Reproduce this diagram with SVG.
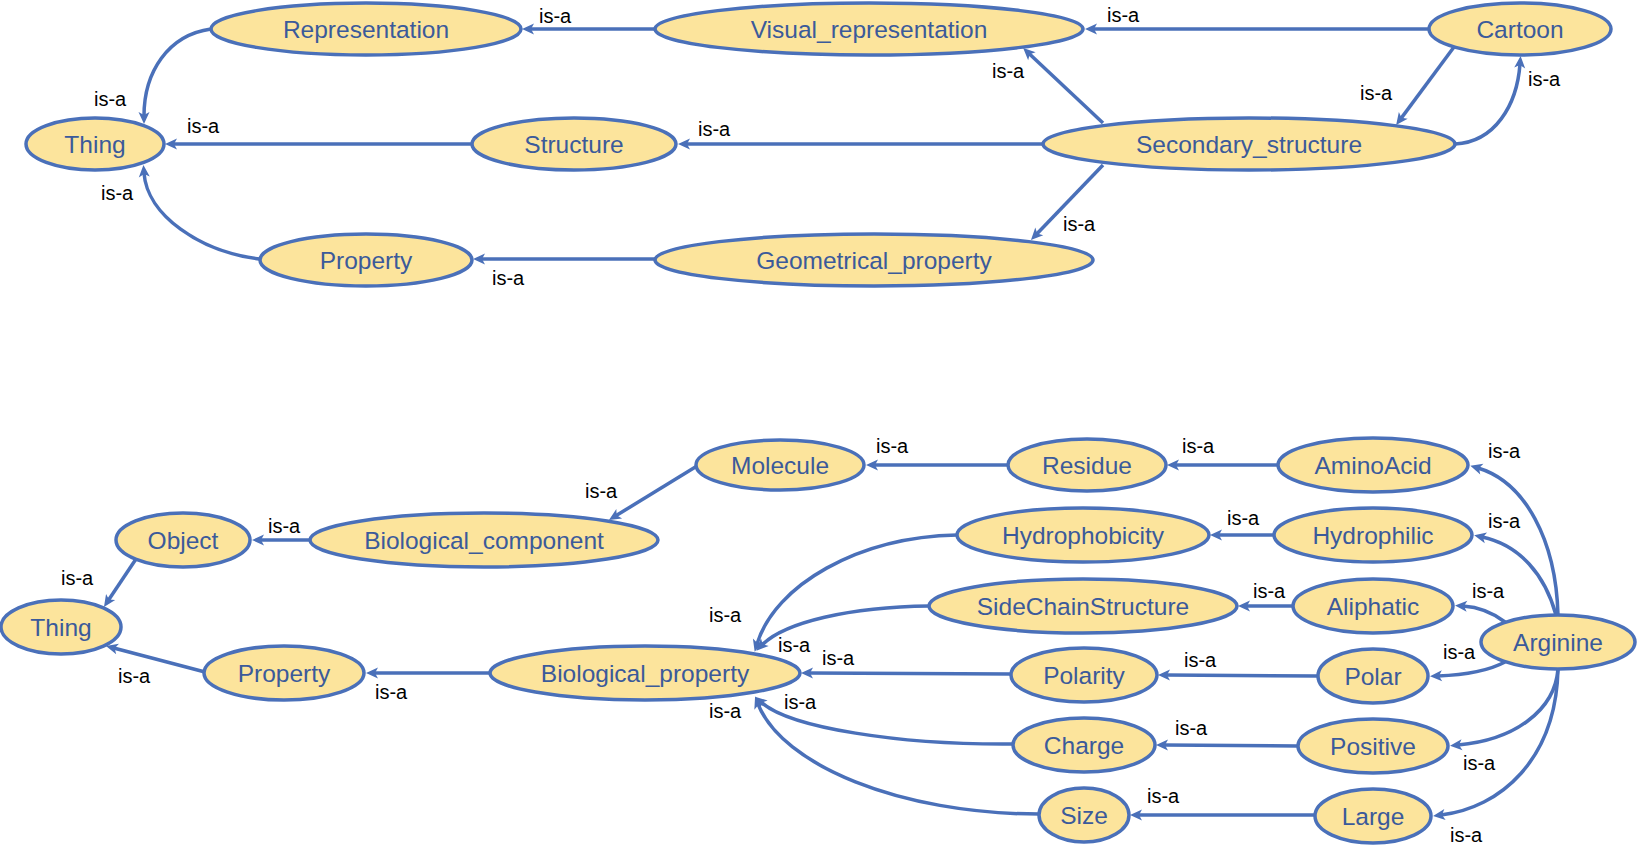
<svg xmlns="http://www.w3.org/2000/svg" width="1637" height="848" viewBox="0 0 1637 848">
<defs>
<style>
.n ellipse{fill:#FCE49C;stroke:#4A70B9;stroke-width:3.5}
.n text{font-family:"Liberation Sans",Arial,sans-serif;font-size:24.5px;fill:#3B5A9A;text-anchor:middle}
.e path{fill:none;stroke:#4A70B9;stroke-width:3.5;marker-end:url(#arr)}
.e text{font-family:"Liberation Sans",Arial,sans-serif;font-size:20px;fill:#000}
</style>
<marker id="arr" viewBox="-13 -7 14 14" refX="-8" refY="0" markerWidth="14" markerHeight="14" markerUnits="userSpaceOnUse" orient="auto">
<path d="M0,0 L-12,-5.5 L-9,0 L-12,5.5 Z" fill="#4A70B9"/>
</marker>
</defs>
<rect width="1637" height="848" fill="#fff"/>

<g id="connectors" class="e">
<!-- top -->
<path d="M655 29 L530 29"/><text x="539" y="23">is-a</text>
<path d="M1429 29 L1093 29"/><text x="1107" y="22">is-a</text>
<path d="M211 29 C168 35 144 72 144 116"/><text x="94" y="106">is-a</text>
<path d="M472 144 L173 144"/><text x="187" y="133">is-a</text>
<path d="M260 259 C200 252 147 215 144 173"/><text x="101" y="200">is-a</text>
<path d="M655 259 L481 259"/><text x="492" y="285">is-a</text>
<path d="M1103 123 L1029 53.5"/><text x="992" y="78">is-a</text>
<path d="M1043 144 L686 144"/><text x="698" y="136">is-a</text>
<path d="M1103 165 L1036.5 234.3"/><text x="1063" y="231">is-a</text>
<path d="M1454 47 L1400.9 118.6"/><text x="1360" y="100">is-a</text>
<path d="M1455 144 C1495 142 1517 105 1520 64"/><text x="1528" y="86">is-a</text>
<!-- bottom -->
<path d="M1008 465 L874 465"/><text x="876" y="453">is-a</text>
<path d="M1278 465 L1175 465"/><text x="1182" y="453">is-a</text>
<path d="M697 466 L615.8 515.8"/><text x="585" y="498">is-a</text>
<path d="M311 540 L260 540"/><text x="268" y="533">is-a</text>
<path d="M136 559 L108.4 600.3"/><text x="61" y="585">is-a</text>
<path d="M205 672 L113.7 648"/><text x="118" y="683">is-a</text>
<path d="M490 673 L374 673"/><text x="375" y="699">is-a</text>
<path d="M957 535 C858 537 775 585 757 644"/><text x="709" y="622">is-a</text>
<path d="M929 606 C850 607 785 622 762 645"/><text x="778" y="652">is-a</text>
<path d="M1011 674 L809 673"/><text x="822" y="665">is-a</text>
<path d="M1013 744 C900 745 790 728 761 702"/><text x="784" y="709">is-a</text>
<path d="M1039 814 C900 814 782 765 758 704"/><text x="709" y="718">is-a</text>
<path d="M1274 535 L1218 535"/><text x="1227" y="525">is-a</text>
<path d="M1293 606 L1246 606"/><text x="1253" y="598">is-a</text>
<path d="M1318 676 L1166 675"/><text x="1184" y="667">is-a</text>
<path d="M1298 746 L1164 745"/><text x="1175" y="735">is-a</text>
<path d="M1315 815 L1138 815"/><text x="1147" y="803">is-a</text>
<path d="M1558 615 C1556 540 1525 482 1478 468"/><text x="1488" y="458">is-a</text>
<path d="M1556 615 C1545 575 1520 545 1482 537"/><text x="1488" y="528">is-a</text>
<path d="M1505 622 C1492 612 1478 607 1463 606"/><text x="1472" y="598">is-a</text>
<path d="M1505 662 C1490 670 1465 675 1438 676"/><text x="1443" y="659">is-a</text>
<path d="M1558 669 C1555 710 1515 740 1458 745"/><text x="1463" y="770">is-a</text>
<path d="M1558 669 C1556 760 1500 808 1441 815"/><text x="1450" y="842">is-a</text>
</g>

<g id="representation" class="n"><ellipse cx="366" cy="29" rx="155" ry="26"/><text x="366" y="38">Representation</text></g>
<g id="visual_representation" class="n"><ellipse cx="869" cy="29" rx="214" ry="26"/><text x="869" y="38">Visual_representation</text></g>
<g id="cartoon" class="n"><ellipse cx="1520" cy="29" rx="91" ry="26"/><text x="1520" y="38">Cartoon</text></g>
<g id="thing_top" class="n"><ellipse cx="95" cy="144" rx="69" ry="26"/><text x="95" y="153">Thing</text></g>
<g id="structure" class="n"><ellipse cx="574" cy="144" rx="102" ry="26"/><text x="574" y="153">Structure</text></g>
<g id="secondary_structure" class="n"><ellipse cx="1249" cy="144" rx="206" ry="26"/><text x="1249" y="153">Secondary_structure</text></g>
<g id="property_top" class="n"><ellipse cx="366" cy="260" rx="106" ry="26"/><text x="366" y="269">Property</text></g>
<g id="geometrical_property" class="n"><ellipse cx="874" cy="260" rx="219" ry="26"/><text x="874" y="269">Geometrical_property</text></g>

<g id="molecule" class="n"><ellipse cx="780" cy="465" rx="84" ry="25"/><text x="780" y="474">Molecule</text></g>
<g id="residue" class="n"><ellipse cx="1087" cy="465" rx="79" ry="26"/><text x="1087" y="474">Residue</text></g>
<g id="aminoacid" class="n"><ellipse cx="1373" cy="465" rx="95" ry="27"/><text x="1373" y="474">AminoAcid</text></g>
<g id="object" class="n"><ellipse cx="183" cy="540" rx="67" ry="27"/><text x="183" y="549">Object</text></g>
<g id="biological_component" class="n"><ellipse cx="484" cy="540" rx="174" ry="27"/><text x="484" y="549">Biological_component</text></g>
<g id="hydrophobicity" class="n"><ellipse cx="1083" cy="535" rx="126" ry="27"/><text x="1083" y="544">Hydrophobicity</text></g>
<g id="hydrophilic" class="n"><ellipse cx="1373" cy="535" rx="99" ry="27"/><text x="1373" y="544">Hydrophilic</text></g>
<g id="thing_bottom" class="n"><ellipse cx="61" cy="627" rx="60" ry="27"/><text x="61" y="636">Thing</text></g>
<g id="sidechainstructure" class="n"><ellipse cx="1083" cy="606" rx="154" ry="27"/><text x="1083" y="615">SideChainStructure</text></g>
<g id="aliphatic" class="n"><ellipse cx="1373" cy="606" rx="80" ry="27"/><text x="1373" y="615">Aliphatic</text></g>
<g id="arginine" class="n"><ellipse cx="1558" cy="642" rx="77" ry="27"/><text x="1558" y="651">Arginine</text></g>
<g id="property_bottom" class="n"><ellipse cx="284" cy="673" rx="80" ry="27"/><text x="284" y="682">Property</text></g>
<g id="biological_property" class="n"><ellipse cx="645" cy="673" rx="155" ry="27"/><text x="645" y="682">Biological_property</text></g>
<g id="polarity" class="n"><ellipse cx="1084" cy="675" rx="73" ry="27"/><text x="1084" y="684">Polarity</text></g>
<g id="polar" class="n"><ellipse cx="1373" cy="676" rx="55" ry="27"/><text x="1373" y="685">Polar</text></g>
<g id="charge" class="n"><ellipse cx="1084" cy="745" rx="71" ry="27"/><text x="1084" y="754">Charge</text></g>
<g id="positive" class="n"><ellipse cx="1373" cy="746" rx="75" ry="27"/><text x="1373" y="755">Positive</text></g>
<g id="size" class="n"><ellipse cx="1084" cy="815" rx="45" ry="27"/><text x="1084" y="824">Size</text></g>
<g id="large" class="n"><ellipse cx="1373" cy="816" rx="58" ry="27"/><text x="1373" y="825">Large</text></g>
</svg>
